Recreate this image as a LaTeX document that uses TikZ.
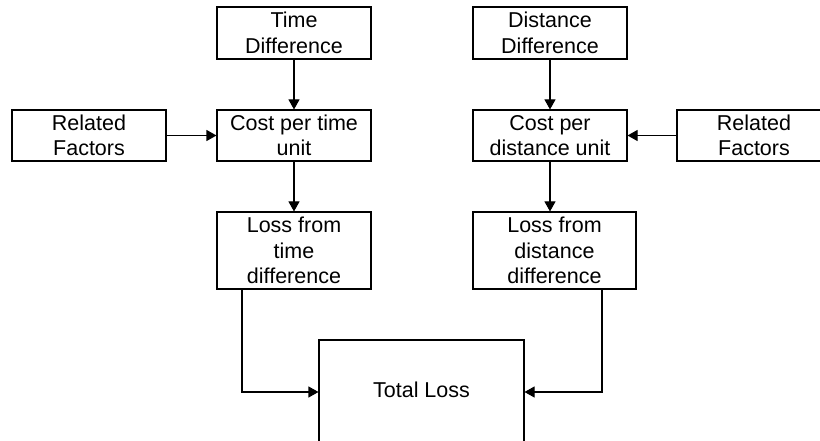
\documentclass[tikz,border=0pt]{standalone}
\usepackage{fontspec}
\setmainfont{Liberation Sans}
\usetikzlibrary{arrows.meta,calc}
\begin{document}
\begin{tikzpicture}[x=1pt,y=-1pt,
  box/.style={draw,line width=1.1pt,inner sep=0pt,align=center,
    font=\fontsize{21.5}{25.5}\selectfont},
  arr/.style={line width=1.1pt,-{Triangle[length=10pt,width=11pt]}}]
\useasboundingbox (0,0) rectangle (820,441);
\clip (0,0) rectangle (820,441);
\node[box,minimum width=154pt,minimum height=52pt] (td) at (294,33) {Time\\Difference};
\node[box,minimum width=154pt,minimum height=51pt] (cpt) at (294,135.5) {Cost per time\\unit};
\node[box,minimum width=154pt,minimum height=51pt] (rf1) at (89,135.5) {Related\\Factors};
\node[box,minimum width=154pt,minimum height=77pt] (lt) at (294,250.5) {Loss from\\time\\difference};
\node[box,minimum width=154pt,minimum height=52pt] (dd) at (550,33) {Distance\\Difference};
\node[box,minimum width=154pt,minimum height=51pt] (cpd) at (550,135.5) {Cost per\\distance unit};
\node[box,minimum width=154pt,minimum height=51pt] (rf2) at (754,135.5) {Related\\Factors};
\node[box,minimum width=163pt,minimum height=77pt] (ld) at (554.5,250.5) {Loss from\\distance\\difference};
\node[box,minimum width=205pt,text height=57pt,text depth=47pt] (tl) at (421.5,392) {Total Loss};
\draw[arr] (td) -- (cpt);
\draw[arr] (rf1) -- (cpt);
\draw[arr] (cpt) -- (lt);
\draw[arr] (dd) -- (cpd);
\draw[arr] (rf2) -- (cpd);
\draw[arr] (cpd.south) -- (cpd.south |- ld.north);
\draw[arr] ($(lt.south)+(-52,0)$) |- (tl.west);
\draw[arr] ($(ld.south)+(47.5,0)$) |- (tl.east);
\end{tikzpicture}
\end{document}
